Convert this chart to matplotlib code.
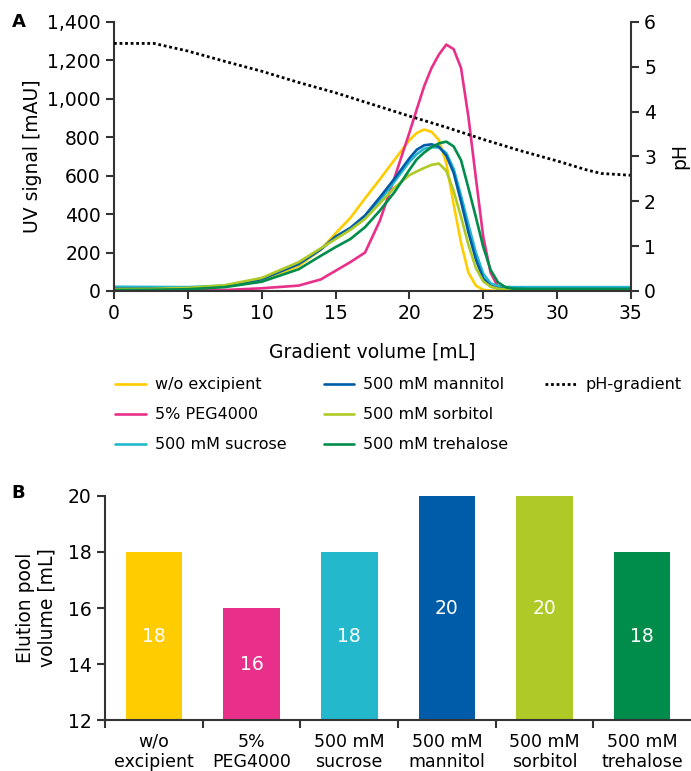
import matplotlib
matplotlib.use("Agg")
import matplotlib.pyplot as plt
from matplotlib.lines import Line2D
from matplotlib.ticker import FuncFormatter

plt.rcParams["font.family"] = ["DejaVu Sans"]
plt.rcParams["font.size"] = 13

# gradient volume grid (mL) shared by the UV traces
vol = [0, 2.5, 5, 7.5, 10, 12.5, 14, 15, 16, 17, 18, 19, 20, 20.5, 21, 21.5,
       22, 22.5, 23, 23.5, 24, 24.5, 25, 25.5, 26, 26.5, 27, 28, 30, 35]

uv_wo = [3, 6, 12, 24, 57, 130, 215, 300, 380, 482, 581, 683, 785, 822, 840, 828,
         786, 665, 450, 250, 95, 28, 6, 2, 0, 0, 0, 0, 0, 0]
uv_peg = [0, 1, 2, 5, 14, 28, 60, 105, 150, 200, 365, 590, 823, 945, 1065, 1160,
          1230, 1282, 1258, 1160, 905, 590, 283, 95, 22, 5, 1, 0, 0, 0]
uv_sucrose = [22, 21, 20, 28, 62, 142, 218, 278, 322, 380, 470, 570, 672, 712, 740, 748,
              746, 718, 635, 495, 345, 200, 90, 40, 25, 21, 20, 20, 20, 20]
uv_mannitol = [12, 12, 15, 26, 62, 140, 216, 283, 328, 393, 487, 585, 690, 735, 758, 763,
               751, 705, 615, 465, 305, 165, 65, 25, 14, 11, 10, 10, 10, 10]
uv_sorbitol = [10, 11, 16, 30, 68, 150, 222, 270, 318, 375, 456, 538, 603, 622, 640, 656,
               663, 625, 520, 385, 240, 120, 50, 22, 12, 8, 7, 6, 6, 6]
uv_trehalose = [5, 6, 9, 20, 48, 113, 183, 228, 270, 332, 418, 515, 630, 685, 720, 748,
                768, 777, 752, 680, 535, 385, 230, 110, 45, 20, 12, 10, 10, 10]

ph_vol = [0, 2.7, 5, 7.5, 10, 12.5, 15, 17.5, 20, 22.5, 25, 27.5, 30, 32, 33, 35]
ph_val = [5.52, 5.52, 5.35, 5.12, 4.9, 4.65, 4.42, 4.16, 3.9, 3.65, 3.38, 3.13, 2.9, 2.7, 2.62, 2.58]

labels = ["w/o excipient", "5% PEG4000", "500 mM sucrose",
          "500 mM mannitol", "500 mM sorbitol", "500 mM trehalose"]
colors = ["#FFCC00", "#E8308A", "#23B8CC", "#005CA8", "#AFCA26", "#008C4A"]

bar_labels = ["w/o\nexcipient", "5%\nPEG4000", "500 mM\nsucrose",
              "500 mM\nmannitol", "500 mM\nsorbitol", "500 mM\ntrehalose"]
pool_volume = [18, 16, 18, 20, 20, 18]

spine_col = "#333333"

fig = plt.figure(figsize=(6.91, 7.71), dpi=100)

# ---- panel A ----
ax = fig.add_axes([0.165, 0.6226, 0.748, 0.349])
series = [uv_wo, uv_peg, uv_sucrose, uv_mannitol, uv_sorbitol, uv_trehalose]
handles = []
for y, lab, c in zip(series, labels, colors):
    h, = ax.plot(vol, y, color=c, lw=1.9, label=lab,
                 solid_capstyle="round", solid_joinstyle="round")
    handles.append(h)
ax.set_xlim(0, 35)
ax.set_ylim(0, 1400)
ax.set_xticks(range(0, 36, 5))
ax.set_yticks(range(0, 1401, 200))
ax.yaxis.set_major_formatter(FuncFormatter(lambda v, p: f"{int(v):,}"))
ax.set_xlabel("Gradient volume [mL]", labelpad=14, fontsize=13.5)
ax.set_ylabel("UV signal [mAU]", labelpad=4, fontsize=13.5)

ax2 = ax.twinx()
hp, = ax2.plot(ph_vol, ph_val, color="black", lw=2, ls=(0, (1, 1)), label="pH-gradient")
ax2.set_ylim(0, 6)
ax2.set_yticks(range(0, 7))
ax2.set_ylabel("pH", labelpad=10, fontsize=13.5)

for a in (ax, ax2):
    a.spines["top"].set_visible(False)
    for s in a.spines.values():
        s.set_color(spine_col)
        s.set_linewidth(1.5)
    a.tick_params(direction="out", length=6, width=1.5, color=spine_col, labelsize=13.5)
ax2.spines["left"].set_visible(False)
ax2.spines["bottom"].set_visible(False)
ax.spines["right"].set_visible(False)

# blank entries so the third column holds only the pH-gradient
blank = Line2D([], [], alpha=0)
fig.legend(handles + [hp, blank, blank], labels + ["pH-gradient", " ", " "], ncol=3,
           frameon=False, loc="upper left", bbox_to_anchor=(0.146, 0.5295),
           handlelength=1.9, handletextpad=0.6, columnspacing=2.3,
           labelspacing=0.95, fontsize=11.5)

fig.text(0.017, 0.965, "A", fontweight="bold", fontsize=13)

# ---- panel B ----
bx = fig.add_axes([0.152, 0.0661, 0.848, 0.2906])
pos = range(len(pool_volume))
bx.bar(pos, [v - 12 for v in pool_volume], bottom=12, width=0.58, color=colors)
for p, v in zip(pos, pool_volume):
    bx.text(p, (12 + v) / 2, str(v), color="white", ha="center", va="center", fontsize=13.5)
bx.set_xlim(-0.5, 5.5)
bx.set_ylim(12, 20)
bx.set_yticks(range(12, 21, 2))
bx.set_xticks([p - 0.5 for p in pos])
bx.set_xticklabels([])
bx.set_xticks(list(pos), minor=True)
bx.set_xticklabels(bar_labels, minor=True, linespacing=1.2)
bx.tick_params(axis="x", which="minor", length=0, pad=9, labelsize=12.5)
bx.set_ylabel("Elution pool\nvolume [mL]", labelpad=8, linespacing=1.2, fontsize=13.5)
bx.spines["top"].set_visible(False)
bx.spines["right"].set_visible(False)
for s in bx.spines.values():
    s.set_color(spine_col)
    s.set_linewidth(1.5)
bx.tick_params(which="major", direction="out", length=6, width=1.5, color=spine_col,
               labelsize=13.5)

fig.text(0.017, 0.354, "B", fontweight="bold", fontsize=13)

fig.savefig("out.png", dpi=100)
